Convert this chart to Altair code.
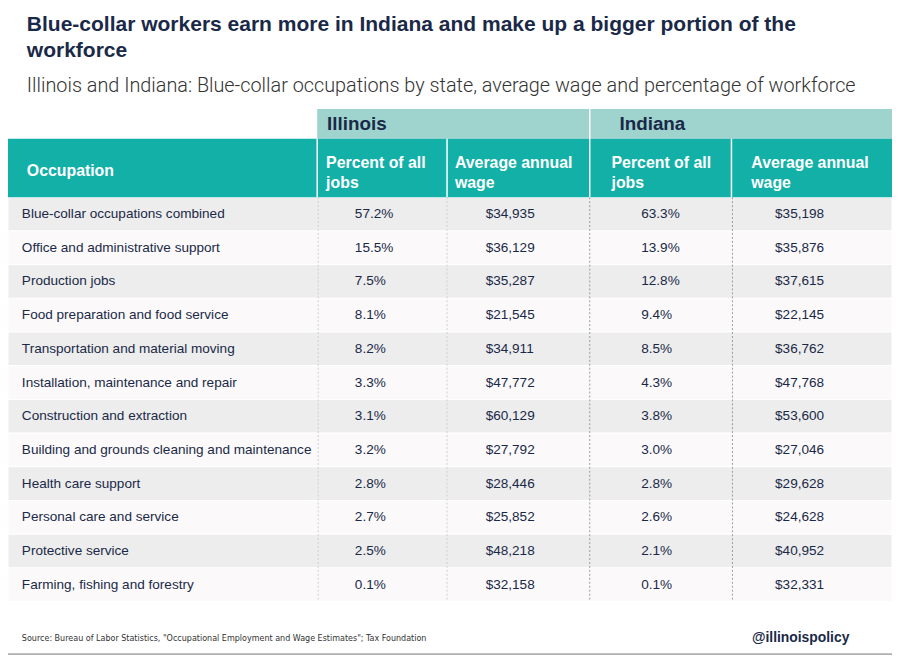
import altair as alt
import pandas as pd

# ---------------- data ----------------
occupations = [
    "Blue-collar occupations combined",
    "Office and administrative support",
    "Production jobs",
    "Food preparation and food service",
    "Transportation and material moving",
    "Installation, maintenance and repair",
    "Construction and extraction",
    "Building and grounds cleaning and maintenance",
    "Health care support",
    "Personal care and service",
    "Protective service",
    "Farming, fishing and forestry",
]
il_pct = [57.2, 15.5, 7.5, 8.1, 8.2, 3.3, 3.1, 3.2, 2.8, 2.7, 2.5, 0.1]
il_wage = [34935, 36129, 35287, 21545, 34911, 47772, 60129, 27792, 28446, 25852, 48218, 32158]
in_pct = [63.3, 13.9, 12.8, 9.4, 8.5, 4.3, 3.8, 3.0, 2.8, 2.6, 2.1, 0.1]
in_wage = [35198, 35876, 37615, 22145, 36762, 47768, 53600, 27046, 29628, 24628, 40952, 32331]

title_lines = ["Blue-collar workers earn more in Indiana and make up a bigger portion of the",
               "workforce"]
subtitle = "Illinois and Indiana: Blue-collar occupations by state, average wage and percentage of workforce"
states = ["Illinois", "Indiana"]
source = 'Source: Bureau of Labor Statistics, "Occupational Employment and Wage Estimates"; Tax Foundation'
handle = "@illinoispolicy"

df = pd.DataFrame({
    "occupation": occupations,
    "il_pct": il_pct,
    "il_wage": il_wage,
    "in_pct": in_pct,
    "in_wage": in_wage,
})
df["shade"] = ["a" if i % 2 == 0 else "b" for i in range(len(df))]

# ---------------- layout / style ----------------
W, H = 892, 655
ROW_TOP, ROW_BOT = 188, 596
NAVY = "#1a2947"
TEAL = "#13b0a8"
LIGHT_TEAL = "#9fd3ce"
F = "Liberation Sans"

Y = alt.Y("occupation:N", sort=occupations,
          scale=alt.Scale(domain=occupations, range=[ROW_TOP, ROW_BOT],
                          paddingInner=0, paddingOuter=0),
          axis=None)

base = alt.Chart(df).encode(y=Y)
one = alt.Data(values=[{"k": 1}])

layers = []

# row backgrounds
layers.append(
    base.mark_rect(stroke="#ffffff", strokeWidth=1).encode(
        x=alt.value(0), x2=alt.value(W),
        color=alt.Color("shade:N", scale=alt.Scale(domain=["a", "b"], range=["#ededed", "#fbf9fa"]),
                        legend=None),
    )
)

# dashed column separators in body
for xv, col in [(313, "#cfcfcf"), (443, "#cfcfcf"), (587, "#9a9a9a"), (731, "#9a9a9a")]:
    layers.append(
        alt.Chart(one).mark_rule(strokeDash=[2, 2], color=col, strokeWidth=1).encode(
            x=alt.value(xv), y=alt.value(ROW_TOP), y2=alt.value(ROW_BOT))
    )

# header bands
layers.append(alt.Chart(one).mark_rect(color=LIGHT_TEAL).encode(
    x=alt.value(312), x2=alt.value(W), y=alt.value(99), y2=alt.value(129)))
layers.append(alt.Chart(one).mark_rect(color=TEAL).encode(
    x=alt.value(0), x2=alt.value(W), y=alt.value(129), y2=alt.value(ROW_TOP)))
for xv in [312, 443, 587, 730]:
    y0 = 99 if xv == 587 else 129
    layers.append(alt.Chart(one).mark_rule(color="#ffffff", strokeWidth=1.5).encode(
        x=alt.value(xv), y=alt.value(y0), y2=alt.value(ROW_TOP)))


def label(txt, x, y, size, weight="normal", color=NAVY, font=F, align="left"):
    return alt.Chart(one).mark_text(
        text=txt, align=align, baseline="middle", font=font, fontSize=size,
        fontWeight=weight, color=color,
    ).encode(x=alt.value(x), y=alt.value(y))


# title and subtitle
layers.append(label(title_lines[0], 19, 14, 21.2, "bold"))
layers.append(label(title_lines[1], 19, 40, 21.2, "bold"))
layers.append(label(subtitle, 19, 76, 20, 300, "#333333", "Roboto"))

# state names
layers.append(label(states[0], 322, 114, 19, "bold"))
layers.append(label(states[1], 617, 114, 19, "bold"))

# column headers
layers.append(label("Occupation", 19, 162, 16, "bold", "#ffffff"))
for xv, l1, l2 in [(321, "Percent of all", " jobs"), (451, "Average annual", "wage"),
                   (609, "Percent of all", " jobs"), (750, "Average annual", "wage")]:
    layers.append(label(l1, xv, 153, 16, "bold", "#ffffff"))
    layers.append(label(l2, xv, 174, 16, "bold", "#ffffff"))

# body text
txt = dict(align="left", baseline="middle", font=F, fontSize=13.7, color=NAVY)
layers.append(base.mark_text(**txt).encode(x=alt.value(14), text="occupation:N"))
layers.append(base.transform_calculate(t="format(datum.il_pct, '.1f') + '%'")
              .mark_text(**txt).encode(x=alt.value(350), text="t:N"))
layers.append(base.mark_text(**txt).encode(x=alt.value(482),
                                           text=alt.Text("il_wage:Q", format="$,.0f")))
layers.append(base.transform_calculate(t="format(datum.in_pct, '.1f') + '%'")
              .mark_text(**txt).encode(x=alt.value(639), text="t:N"))
layers.append(base.mark_text(**txt).encode(x=alt.value(774),
                                           text=alt.Text("in_wage:Q", format="$,.0f")))

# footer
layers.append(label(source, 14, 633, 9, "normal", "#333333", "DejaVu Sans Condensed"))
layers.append(label(handle, 849, 633, 14, "bold", NAVY, F, "right"))
layers.append(alt.Chart(one).mark_rule(color="#b0b0b0", strokeWidth=2).encode(
    x=alt.value(0), x2=alt.value(W), y=alt.value(649)))

chart = alt.layer(*layers).properties(
    width=W, height=H, padding=0, autosize=alt.AutoSizeParams(type="none"),
).configure_view(stroke=None)

chart.save("out.html", embed_options={"renderer": "svg", "actions": False})
